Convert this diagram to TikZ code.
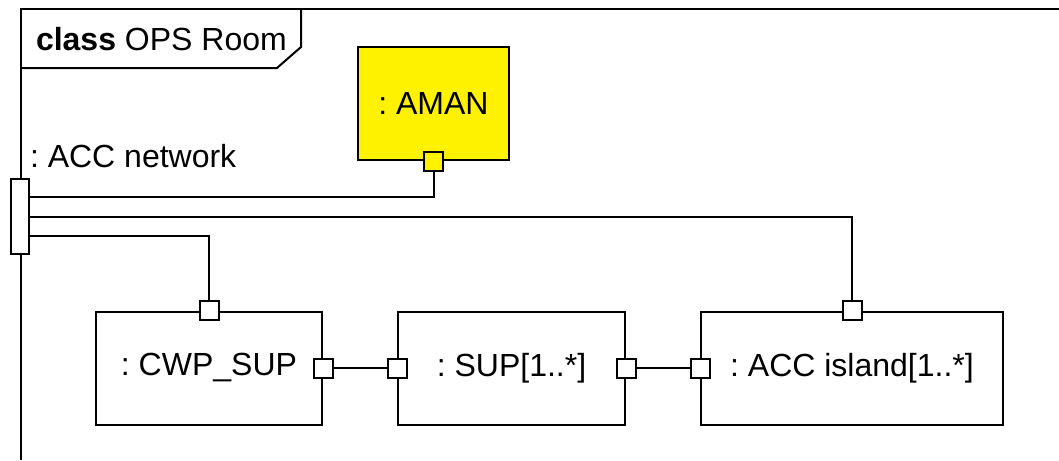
\documentclass[tikz,border=0pt]{standalone}
\usepackage{fontspec}
\setmainfont{Liberation Sans}
\usetikzlibrary{positioning}
\frenchspacing

\begin{document}
\begin{tikzpicture}[
    x=1pt, y=-1pt,
    line width=2pt,
    part/.style={draw, minimum width=226, minimum height=113, inner sep=0pt,
                 font=\fontsize{32}{38}\selectfont},
    port/.style={draw, fill=white, minimum size=19, inner sep=0pt},
    lbl/.style={inner sep=0pt, font=\fontsize{32}{38}\selectfont}
]
\useasboundingbox (0,0) rectangle (1059,460);
% frame with its name tab
\draw (21,460) -- (21,9) -- (1059,9);
\draw (301,9) -- (301,47) -- (277,68) -- (21,68);
\node[lbl, anchor=west]                      (title) at (35,39)        {\textbf{class} OPS Room};

\node[part, fill=yellow, minimum width=151]  (aman)  at (433.5,103.5)  {: AMAN};
\node[part]                                  (cwp)   at (209,368)      {: CWP\_SUP};
\node[part, minimum width=227]               (sup)   at (511.5,368)    {: SUP[1..*]};
\node[part, minimum width=302]               (isl)   at (852,368)      {: ACC island[1..*]};

% ports
\node[port, minimum width=18, minimum height=75] (net) at (20,216.5) {};
\node[lbl, anchor=west]                      (netlbl) at (29,156)      {: ACC network};
\node[port, fill=yellow]                     (amanP) at (aman.south)   {};
\node[port]                                  (cwpN)  at (cwp.north)    {};
\node[port]                                  (cwpE)  at (cwp.east)     {};
\node[port]                                  (supW)  at (sup.west)     {};
\node[port]                                  (supE)  at (sup.east)     {};
\node[port]                                  (islW)  at (isl.west)     {};
\node[port]                                  (islN)  at (isl.north)    {};

\draw ([yshift=19.5pt]net.east)  -| (amanP);
\draw (net.east)                 -| (islN);
\draw ([yshift=-19.5pt]net.east) -| (cwpN);
\draw (cwpE) -- (supW);
\draw (supE) -- (islW);
\end{tikzpicture}
\end{document}
